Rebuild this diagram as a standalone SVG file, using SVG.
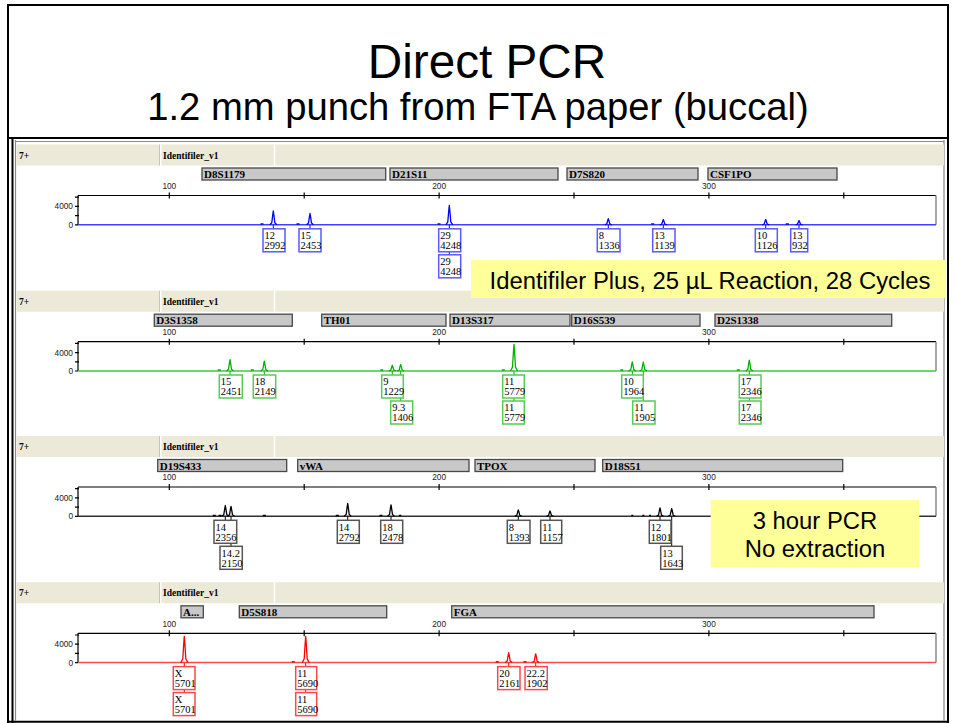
<svg xmlns="http://www.w3.org/2000/svg" xmlns:xlink="http://www.w3.org/1999/xlink" width="954" height="723" viewBox="0 0 954 723">
<style>
.title{font-family:"Liberation Sans",Arial,sans-serif;fill:#000;text-anchor:middle}
.hdr{fill:#ECE9D8}
.ht{font-family:"Liberation Serif","Times New Roman",serif;font-weight:bold;font-size:9.5px;fill:#000}
.bin{fill:#C8C8C8;stroke:#484848;stroke-width:1.3}
.bt{font-family:"Liberation Serif","Times New Roman",serif;font-weight:bold;font-size:11px;fill:#000}
.sc{font-family:"Liberation Sans",Arial,sans-serif;font-size:8.3px;fill:#222;text-anchor:middle}
.yl{font-family:"Liberation Sans",Arial,sans-serif;font-size:8.3px;fill:#222;text-anchor:end}
.ax{fill:none;stroke:#000;stroke-width:1.2}
.edge{fill:none;stroke:#8a8a8a;stroke-width:1.5}
.lt{font-family:"Liberation Serif","Times New Roman",serif;font-size:10.5px;fill:#000}
.box{fill:#fff;stroke-width:1.5}
.pk{fill:none;stroke-width:1.3;stroke-linejoin:round}
.art{fill:none;stroke-width:1.5}
.con{fill:none;stroke-width:1}
.base{fill:none;stroke-width:1.5}
.call{fill:#FFFF99}
.ct{font-family:"Liberation Sans",Arial,sans-serif;font-size:23.85px;fill:#000;text-anchor:middle}
.frame{fill:none;stroke:#000;stroke-width:2}
.p1 .pk,.p1 .art,.p1 .con{stroke:#0000FF}
.p1 .base{stroke:#4040FF}
.p1 .box{stroke:#5A5AFF}
.p2 .pk,.p2 .art,.p2 .con{stroke:#00B000}
.p2 .base{stroke:#3CC83C}
.p2 .box{stroke:#55CC55}
.p3 .pk,.p3 .art,.p3 .con{stroke:#000}
.p3 .base{stroke:#303030}
.p3 .box{stroke:#555}
.p4 .pk,.p4 .art,.p4 .con{stroke:#FF0000}
.p4 .base{stroke:#FF4848}
.p4 .box{stroke:#FF4848}
</style>
<defs>
  <!-- panel title strip -->
  <g id="hdrbar">
    <rect class="hdr" x="16.5" y="-51" width="927.5" height="21"/>
    <path d="M159.5 -51V-30" stroke="#c9c6b8" stroke-width="1"/>
    <path d="M160.8 -51V-30M274.5 -51V-30" stroke="#fff" stroke-width="1.5"/>
    <text class="ht" x="19" y="-37">7+</text>
    <text class="ht" x="163" y="-37">Identifiler_v1</text>
  </g>
  <!-- size scale and RFU axis shared by every dye panel -->
  <g id="axis">
    <path class="ax" d="M78 0H936M78 0V29.3M169.3 -3v6M304.2 -3v6M439.1 -3v6M574 -3v6M708.9 -3v6M843.8 -3v6M75 29.3h3M75 20.1h4M75 10.9h4M75 1.7h4"/>
    <path class="edge" d="M936 0V29.3"/>
    <text class="sc" x="169.3" y="-6.8">100</text>
    <text class="sc" x="439.1" y="-6.8">200</text>
    <text class="sc" x="708.9" y="-6.8">300</text>
    <text class="yl" x="73" y="13.9">4000</text>
    <text class="yl" x="73" y="32.3">0</text>
  </g>
</defs>

<rect width="954" height="723" fill="#fff"/>

<!-- slide and screenshot frame -->
<g id="frame">
  <rect class="frame" x="8" y="5" width="940" height="730"/>
  <path class="frame" d="M8 138H948M12.5 138V723M8 721.7H948"/>
  <path d="M15.5 140V721M15 141.5H944M944 140V721" fill="none" stroke="#8a8a8a" stroke-width="1.2"/>
</g>

<g id="titles">
  <text class="title" x="487" y="78" font-size="47.7">Direct PCR</text>
  <text class="title" x="478" y="120" font-size="38.2">1.2 mm punch from FTA paper (buccal)</text>
</g>

<!-- blue dye -->
<g id="panel-blue" class="p1" transform="translate(0 195.5)">
  <use xlink:href="#hdrbar"/>
  <g class="bins">
    <rect class="bin" x="202" y="-27.5" width="183.7" height="12"/><text class="bt" x="204" y="-17.3">D8S1179</text>
    <rect class="bin" x="390" y="-27.5" width="168" height="12"/><text class="bt" x="392" y="-17.3">D21S11</text>
    <rect class="bin" x="567" y="-27.5" width="131" height="12"/><text class="bt" x="569" y="-17.3">D7S820</text>
    <rect class="bin" x="708" y="-27.5" width="129" height="12"/><text class="bt" x="710" y="-17.3">CSF1PO</text>
  </g>
  <use xlink:href="#axis"/>
  <path class="base" d="M78 29.3H936"/>
  <path class="art" d="M260.5 28.4h3M296.5 28.4h3M437.5 28.4h3M651.2 28.4h3M785.8 28.4h3"/>
  <g class="peaks">
    <path class="pk" d="M269.8 29.3l2 -2.1l0.9 -7.6l0.6 -4.1l0.6 4.1l0.9 7.6l2 2.1"/>
    <path class="pk" d="M306.5 29.3l2 -1.7l0.9 -6.2l0.6 -3.4l0.6 3.4l0.9 6.2l2 1.7"/>
    <path class="pk" d="M445.8 29.3l2 -2.9l0.9 -10.7l0.6 -5.9l0.6 5.9l0.9 10.7l2 2.9"/>
    <path class="pk" d="M604.8 29.3l2 -0.9l0.9 -3.4l0.6 -1.8l0.6 1.8l0.9 3.4l2 0.9"/>
    <path class="pk" d="M659.8 29.3l2 -0.8l0.9 -2.9l0.6 -1.5l0.6 1.5l0.9 2.9l2 0.8"/>
    <path class="pk" d="M762.2 29.3l2 -0.8l0.9 -2.9l0.6 -1.5l0.6 1.5l0.9 2.9l2 0.8"/>
    <path class="pk" d="M795.5 29.3l2 -0.6l0.9 -2.4l0.6 -1.3l0.6 1.3l0.9 2.4l2 0.6"/>
  </g>
  <path class="con" d="M273.3 29.3V33.3M310 29.3V33.3M449.3 29.3V59.3M608.3 29.3V33.3M663.3 29.3V33.3M765.7 29.3V33.3M799 29.3V33.3"/>
  <g class="calls">
    <rect class="box" x="263" y="33.3" width="22" height="23"/><text class="lt" x="264.5" y="43.6">12</text><text class="lt" x="264.5" y="53.8">2992</text>
    <rect class="box" x="299" y="33.3" width="22" height="23"/><text class="lt" x="300.5" y="43.6">15</text><text class="lt" x="300.5" y="53.8">2453</text>
    <rect class="box" x="438.7" y="33.3" width="22" height="23"/><text class="lt" x="440.2" y="43.6">29</text><text class="lt" x="440.2" y="53.8">4248</text>
    <rect class="box" x="438.7" y="59.3" width="22" height="23"/><text class="lt" x="440.2" y="69.6">29</text><text class="lt" x="440.2" y="79.8">4248</text>
    <rect class="box" x="597.3" y="33.3" width="22.7" height="23"/><text class="lt" x="598.8" y="43.6">8</text><text class="lt" x="598.8" y="53.8">1336</text>
    <rect class="box" x="652.7" y="33.3" width="22.3" height="23"/><text class="lt" x="654.2" y="43.6">13</text><text class="lt" x="654.2" y="53.8">1139</text>
    <rect class="box" x="755.3" y="33.3" width="22" height="23"/><text class="lt" x="756.8" y="43.6">10</text><text class="lt" x="756.8" y="53.8">1126</text>
    <rect class="box" x="790.7" y="33.3" width="17" height="23"/><text class="lt" x="792" y="43.6">13</text><text class="lt" x="792" y="53.8">932</text>
  </g>
</g>

<!-- green dye -->
<g id="panel-green" class="p2" transform="translate(0 341.7)">
  <use xlink:href="#hdrbar"/>
  <g class="bins">
    <rect class="bin" x="154.3" y="-27.5" width="138" height="12"/><text class="bt" x="156.3" y="-17.3">D3S1358</text>
    <rect class="bin" x="321.7" y="-27.5" width="124.3" height="12"/><text class="bt" x="323.7" y="-17.3">TH01</text>
    <rect class="bin" x="450" y="-27.5" width="120" height="12"/><text class="bt" x="452" y="-17.3">D13S317</text>
    <rect class="bin" x="571.7" y="-27.5" width="128.3" height="12"/><text class="bt" x="573.7" y="-17.3">D16S539</text>
    <rect class="bin" x="715" y="-27.5" width="176.7" height="12"/><text class="bt" x="717" y="-17.3">D2S1338</text>
  </g>
  <use xlink:href="#axis"/>
  <path class="base" d="M78 29.3H936"/>
  <path class="art" d="M217.8 28.4h3M250.8 28.4h3M380.2 28.4h3M501.8 28.4h3M620.2 28.4h3M736.8 28.4h3"/>
  <g class="peaks">
    <path class="pk" d="M226.5 29.3l2 -1.7l0.9 -6.2l0.6 -3.4l0.6 3.4l0.9 6.2l2 1.7"/>
    <path class="pk" d="M260.8 29.3l2 -1.5l0.9 -5.4l0.6 -3l0.6 3l0.9 5.4l2 1.5"/>
    <path class="pk" d="M388.8 29.3l2 -0.9l0.9 -3.1l0.6 -1.7l0.6 1.7l0.9 3.1l2 0.9"/>
    <path class="pk" d="M397.2 29.3l2 -1l0.9 -3.6l0.6 -1.9l0.6 1.9l0.9 3.6l2 1"/>
    <path class="pk" d="M510.5 29.3l2 -4l0.9 -14.6l0.6 -8l0.6 8l0.9 14.6l2 4"/>
    <path class="pk" d="M628.8 29.3l2 -1.4l0.9 -4.9l0.6 -2.7l0.6 2.7l0.9 4.9l2 1.4"/>
    <path class="pk" d="M639.8 29.3l2 -1.3l0.9 -4.8l0.6 -2.7l0.6 2.7l0.9 4.8l2 1.3"/>
    <path class="pk" d="M745.8 29.3l2 -1.6l0.9 -5.9l0.6 -3.3l0.6 3.3l0.9 5.9l2 1.6"/>
  </g>
  <path class="con" d="M230 29.3V33.3M264.3 29.3V33.3M392.3 29.3V33.3M400.7 29.3V59.3M514 29.3V59.3M632.3 29.3V33.3M643.3 29.3V59.3M749.3 29.3V59.3"/>
  <g class="calls">
    <rect class="box" x="219.3" y="33.3" width="23" height="23"/><text class="lt" x="220.8" y="43.6">15</text><text class="lt" x="220.8" y="53.8">2451</text>
    <rect class="box" x="253.3" y="33.3" width="22.4" height="23"/><text class="lt" x="254.8" y="43.6">18</text><text class="lt" x="254.8" y="53.8">2149</text>
    <rect class="box" x="381.7" y="33.3" width="21.6" height="23"/><text class="lt" x="383.2" y="43.6">9</text><text class="lt" x="383.2" y="53.8">1229</text>
    <rect class="box" x="390.7" y="59.3" width="22" height="23"/><text class="lt" x="392.2" y="69.6">9.3</text><text class="lt" x="392.2" y="79.8">1406</text>
    <rect class="box" x="502.7" y="33.3" width="21.6" height="23"/><text class="lt" x="504.2" y="43.6">11</text><text class="lt" x="504.2" y="53.8">5779</text>
    <rect class="box" x="502.7" y="59.3" width="21.6" height="23"/><text class="lt" x="504.2" y="69.6">11</text><text class="lt" x="504.2" y="79.8">5779</text>
    <rect class="box" x="621.7" y="33.3" width="21.6" height="23"/><text class="lt" x="623.2" y="43.6">10</text><text class="lt" x="623.2" y="53.8">1964</text>
    <rect class="box" x="632.7" y="59.3" width="22.3" height="23"/><text class="lt" x="634.2" y="69.6">11</text><text class="lt" x="634.2" y="79.8">1905</text>
    <rect class="box" x="739.3" y="33.3" width="21.7" height="23"/><text class="lt" x="740.8" y="43.6">17</text><text class="lt" x="740.8" y="53.8">2346</text>
    <rect class="box" x="739.3" y="59.3" width="21.7" height="23"/><text class="lt" x="740.8" y="69.6">17</text><text class="lt" x="740.8" y="79.8">2346</text>
  </g>
</g>

<!-- yellow dye (drawn in black) -->
<g id="panel-black" class="p3" transform="translate(0 487)">
  <use xlink:href="#hdrbar"/>
  <g class="bins">
    <rect class="bin" x="157.7" y="-27.5" width="129" height="12"/><text class="bt" x="159.7" y="-17.3">D19S433</text>
    <rect class="bin" x="297.7" y="-27.5" width="171.3" height="12"/><text class="bt" x="299.7" y="-17.3">vWA</text>
    <rect class="bin" x="475" y="-27.5" width="120" height="12"/><text class="bt" x="477" y="-17.3">TPOX</text>
    <rect class="bin" x="602.7" y="-27.5" width="240" height="12"/><text class="bt" x="604.7" y="-17.3">D18S51</text>
  </g>
  <use xlink:href="#axis"/>
  <path class="base" d="M78 29.3H936"/>
  <path class="art" d="M212.8 28.4h3M218.5 28.4h3M262.8 28.4h3M335.8 28.4h3M379.5 28.4h3M398.8 28.4h2.5M631.3 28.6h2M642.3 28.6h2M649 28.6h2"/>
  <g class="peaks">
    <path class="pk" d="M221.8 29.3l2 -1.6l0.9 -5.9l0.6 -3.3l0.6 3.3l0.9 5.9l2 1.6"/>
    <path class="pk" d="M227.5 29.3l2 -1.5l0.9 -5.4l0.6 -3l0.6 3l0.9 5.4l2 1.5"/>
    <path class="pk" d="M344.2 29.3l2 -1.9l0.9 -7l0.6 -3.9l0.6 3.9l0.9 7l2 1.9"/>
    <path class="pk" d="M387.5 29.3l2 -1.7l0.9 -6.3l0.6 -3.4l0.6 3.4l0.9 6.3l2 1.7"/>
    <path class="pk" d="M514.8 29.3l2 -1l0.9 -3.5l0.6 -1.9l0.6 1.9l0.9 3.5l2 1"/>
    <path class="pk" d="M546.5 29.3l2 -0.8l0.9 -2.9l0.6 -1.6l0.6 1.6l0.9 2.9l2 0.8"/>
    <path class="pk" d="M656.5 29.3l2 -1.2l0.9 -4.6l0.6 -2.5l0.6 2.5l0.9 4.6l2 1.2"/>
    <path class="pk" d="M668.2 29.3l2 -1.1l0.9 -4.2l0.6 -2.3l0.6 2.3l0.9 4.2l2 1.1"/>
  </g>
  <path class="con" d="M225.3 29.3V33.3M231 29.3V59.3M347.7 29.3V33.3M391 29.3V33.3M518.3 29.3V33.3M550 29.3V33.3M660 29.3V33.3M671.7 29.3V59.3"/>
  <g class="calls">
    <rect class="box" x="214" y="33.3" width="22.7" height="23"/><text class="lt" x="215.5" y="43.6">14</text><text class="lt" x="215.5" y="53.8">2356</text>
    <rect class="box" x="220" y="59.3" width="22.3" height="23"/><text class="lt" x="221.5" y="69.6">14.2</text><text class="lt" x="221.5" y="79.8">2150</text>
    <rect class="box" x="337.3" y="33.3" width="22" height="23"/><text class="lt" x="338.8" y="43.6">14</text><text class="lt" x="338.8" y="53.8">2792</text>
    <rect class="box" x="380.7" y="33.3" width="22" height="23"/><text class="lt" x="382.2" y="43.6">18</text><text class="lt" x="382.2" y="53.8">2478</text>
    <rect class="box" x="507.3" y="33.3" width="22.7" height="23"/><text class="lt" x="508.8" y="43.6">8</text><text class="lt" x="508.8" y="53.8">1393</text>
    <rect class="box" x="540.7" y="33.3" width="21" height="23"/><text class="lt" x="542.2" y="43.6">11</text><text class="lt" x="542.2" y="53.8">1157</text>
    <rect class="box" x="649.3" y="33.3" width="21.7" height="23"/><text class="lt" x="650.8" y="43.6">12</text><text class="lt" x="650.8" y="53.8">1801</text>
    <rect class="box" x="660.7" y="59.3" width="21.6" height="23"/><text class="lt" x="662.2" y="69.6">13</text><text class="lt" x="662.2" y="79.8">1643</text>
  </g>
</g>

<!-- red dye -->
<g id="panel-red" class="p4" transform="translate(0 633.3)">
  <use xlink:href="#hdrbar"/>
  <g class="bins">
    <rect class="bin" x="181" y="-27.5" width="22.3" height="12"/><text class="bt" x="183" y="-17.3">A...</text>
    <rect class="bin" x="239.3" y="-27.5" width="147.4" height="12"/><text class="bt" x="241.3" y="-17.3">D5S818</text>
    <rect class="bin" x="451.7" y="-27.5" width="422.3" height="12"/><text class="bt" x="453.7" y="-17.3">FGA</text>
  </g>
  <use xlink:href="#axis"/>
  <path class="base" d="M78 29.3H936"/>
  <path class="art" d="M291.8 28.4h3M495.8 28.4h3M523.5 28.4h3"/>
  <g class="peaks">
    <path class="pk" d="M180.8 29.3l2 -3.9l0.9 -14.4l0.6 -7.9l0.6 7.9l0.9 14.4l2 3.9"/>
    <path class="pk" d="M302.2 29.3l2 -3.9l0.9 -14.4l0.6 -7.9l0.6 7.9l0.9 14.4l2 3.9"/>
    <path class="pk" d="M505.2 29.3l2 -1.5l0.9 -5.4l0.6 -3l0.6 3l0.9 5.4l2 1.5"/>
    <path class="pk" d="M532.2 29.3l2 -1.3l0.9 -4.8l0.6 -2.6l0.6 2.6l0.9 4.8l2 1.3"/>
  </g>
  <path class="con" d="M184.3 29.3V59.3M305.7 29.3V59.3M508.7 29.3V33.3M535.7 29.3V33.3"/>
  <g class="calls">
    <rect class="box" x="173.3" y="33.3" width="21.7" height="23"/><text class="lt" x="174.8" y="43.6">X</text><text class="lt" x="174.8" y="53.8">5701</text>
    <rect class="box" x="173.3" y="59.3" width="21.7" height="23"/><text class="lt" x="174.8" y="69.6">X</text><text class="lt" x="174.8" y="79.8">5701</text>
    <rect class="box" x="295.7" y="33.3" width="21" height="23"/><text class="lt" x="297.2" y="43.6">11</text><text class="lt" x="297.2" y="53.8">5690</text>
    <rect class="box" x="295.7" y="59.3" width="21" height="23"/><text class="lt" x="297.2" y="69.6">11</text><text class="lt" x="297.2" y="79.8">5690</text>
    <rect class="box" x="497.7" y="33.3" width="22.3" height="23"/><text class="lt" x="499.2" y="43.6">20</text><text class="lt" x="499.2" y="53.8">2161</text>
    <rect class="box" x="525" y="33.3" width="22.3" height="23"/><text class="lt" x="526.5" y="43.6">22.2</text><text class="lt" x="526.5" y="53.8">1902</text>
  </g>
</g>

<!-- annotation callouts -->
<g id="note-kit">
  <rect class="call" x="471" y="260" width="475" height="38"/>
  <text class="ct" x="710" y="288.5">Identifiler Plus, 25 µL Reaction, 28 Cycles</text>
</g>
<g id="note-time">
  <rect class="call" x="710.7" y="500" width="208.6" height="67.3"/>
  <text class="ct" x="815" y="528.5">3 hour PCR</text>
  <text class="ct" x="815" y="557">No extraction</text>
</g>
</svg>
